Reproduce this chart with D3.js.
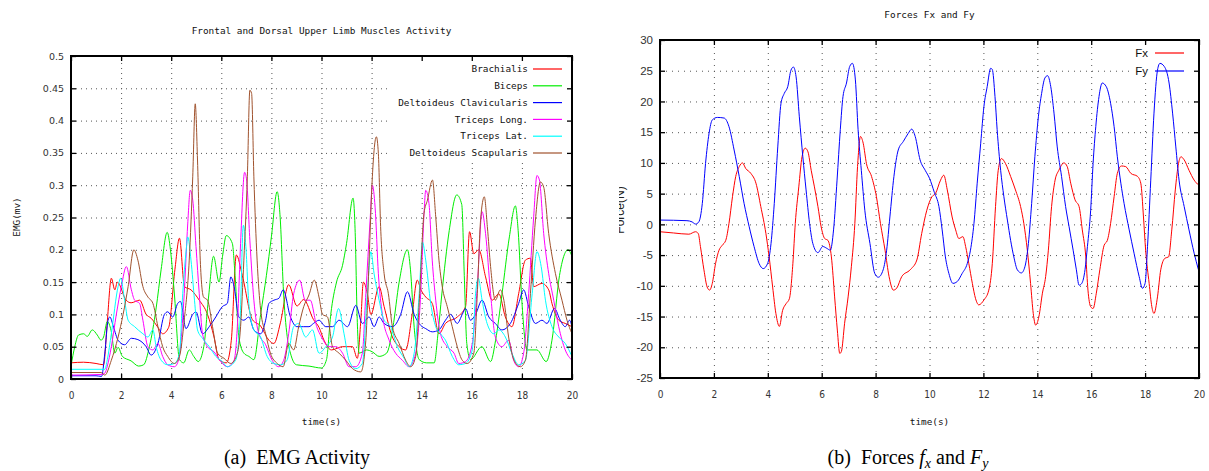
<!DOCTYPE html>
<html><head><meta charset="utf-8">
<script src="https://cdn.jsdelivr.net/npm/d3@7"></script>
<style>
html,body{margin:0;padding:0;background:#fff;}
svg{display:block;}
</style></head><body>
<svg id="c" width="1209" height="471"></svg>
<script>
// ---------------- DATA ----------------
const timeTicks = [0,2,4,6,8,10,12,14,16,18,20];
const emgTicks = [0,0.05,0.1,0.15,0.2,0.25,0.3,0.35,0.4,0.45,0.5];
const emgTickLabels = ["0","0.05","0.1","0.15","0.2","0.25","0.3","0.35","0.4","0.45","0.5"];
const forceTicks = [-25,-20,-15,-10,-5,0,5,10,15,20,25,30];

const muscleNames = ["Brachialis","Biceps","Deltoideus Clavicularis","Triceps Long.","Triceps Lat.","Deltoideus Scapularis"];
const muscleColors = ["#ff0000","#00ee00","#0000ff","#ff00ff","#00ffff","#a0522d"];

const brachialis = [[0,0.025],[0.5,0.026],[1.0,0.024],[1.3,0.022],[1.45,0.09],[1.61,0.156],[1.75,0.138],[1.85,0.15],[2.2,0.122],[2.4,0.118],[2.74,0.122],[3.0,0.1],[3.2,0.094],[3.47,0.08],[3.66,0.07],[3.9,0.08],[4.15,0.17],[4.33,0.218],[4.53,0.143],[4.79,0.138],[5.12,0.122],[5.45,0.1],[5.71,0.065],[5.91,0.03],[6.2,0.025],[6.4,0.06],[6.6,0.192],[6.84,0.16],[7.24,0.092],[7.57,0.082],[7.9,0.06],[8.1,0.055],[8.36,0.087],[8.69,0.146],[9.02,0.113],[9.29,0.123],[9.68,0.092],[9.9,0.08],[10.1,0.06],[10.4,0.045],[10.84,0.05],[11.24,0.05],[11.43,0.032],[11.57,0.091],[11.67,0.15],[11.83,0.132],[11.97,0.1],[12.3,0.143],[12.5,0.112],[12.83,0.065],[13.1,0.05],[13.36,0.045],[13.62,0.1],[13.82,0.153],[13.97,0.138],[14.16,0.127],[14.42,0.117],[14.69,0.07],[14.95,0.086],[15.42,0.096],[15.75,0.112],[15.91,0.228],[16.08,0.194],[16.28,0.2],[16.55,0.158],[16.81,0.122],[17.08,0.132],[17.34,0.096],[17.6,0.081],[17.87,0.132],[18.14,0.184],[18.34,0.187],[18.47,0.143],[18.8,0.148],[19.07,0.138],[19.2,0.117],[19.47,0.091],[19.73,0.086],[20,0.081]];

const biceps = [[0,0.02],[0.15,0.05],[0.3,0.068],[0.5,0.07],[0.65,0.066],[0.85,0.076],[1.05,0.068],[1.2,0.06],[1.3,0.065],[1.45,0.089],[1.6,0.075],[1.75,0.04],[1.88,0.049],[2.05,0.035],[2.4,0.028],[2.7,0.02],[2.9,0.022],[3.13,0.05],[3.4,0.11],[3.6,0.17],[3.84,0.227],[3.97,0.2],[4.13,0.13],[4.33,0.03],[4.5,0.025],[4.72,0.045],[4.9,0.035],[5.08,0.027],[5.3,0.05],[5.5,0.13],[5.69,0.19],[5.91,0.15],[6.05,0.19],[6.2,0.222],[6.44,0.21],[6.55,0.16],[6.7,0.065],[6.9,0.04],[7.1,0.035],[7.3,0.03],[7.57,0.1],[7.8,0.16],[8.0,0.22],[8.23,0.29],[8.35,0.25],[8.49,0.13],[8.65,0.06],[8.76,0.04],[9.0,0.022],[9.5,0.02],[10.0,0.017],[10.2,0.03],[10.37,0.1],[10.6,0.15],[10.84,0.176],[11.0,0.21],[11.26,0.28],[11.35,0.22],[11.42,0.1],[11.5,0.04],[11.8,0.045],[12.03,0.042],[12.3,0.035],[12.6,0.04],[12.85,0.08],[13.1,0.15],[13.43,0.2],[13.55,0.17],[13.7,0.08],[13.9,0.03],[14.2,0.025],[14.5,0.025],[14.65,0.07],[14.8,0.13],[15.1,0.23],[15.4,0.285],[15.6,0.27],[15.7,0.16],[15.8,0.055],[15.95,0.03],[16.4,0.05],[16.75,0.027],[16.95,0.06],[17.2,0.13],[17.5,0.22],[17.74,0.268],[17.85,0.23],[18.0,0.12],[18.2,0.045],[18.6,0.045],[18.97,0.027],[19.2,0.06],[19.5,0.16],[19.84,0.2],[20,0.19]];

const deltClavicularis = [[0,0.005],[1.0,0.005],[1.22,0.004],[1.35,0.04],[1.48,0.091],[1.55,0.096],[1.7,0.08],[1.88,0.06],[2.14,0.053],[2.41,0.063],[2.67,0.061],[3.0,0.05],[3.2,0.037],[3.47,0.055],[3.73,0.1],[3.86,0.104],[4.06,0.096],[4.26,0.117],[4.37,0.12],[4.59,0.078],[4.86,0.1],[4.99,0.104],[5.25,0.07],[5.52,0.081],[5.78,0.096],[6.04,0.112],[6.24,0.117],[6.38,0.158],[6.51,0.143],[6.7,0.096],[6.9,0.091],[7.1,0.096],[7.3,0.076],[7.57,0.07],[7.77,0.091],[7.9,0.117],[8.1,0.122],[8.3,0.125],[8.47,0.138],[8.76,0.096],[9.02,0.081],[9.29,0.081],[9.5,0.081],[9.68,0.086],[9.9,0.091],[10.17,0.081],[10.44,0.081],[10.7,0.091],[11.04,0.081],[11.37,0.114],[11.63,0.086],[11.9,0.096],[12.1,0.081],[12.3,0.096],[12.5,0.086],[12.83,0.081],[13.16,0.1],[13.43,0.135],[13.7,0.1],[13.96,0.083],[14.16,0.078],[14.42,0.073],[14.69,0.076],[14.95,0.091],[15.15,0.1],[15.42,0.086],[15.62,0.1],[15.75,0.109],[15.95,0.091],[16.15,0.1],[16.41,0.122],[16.68,0.096],[16.94,0.086],[17.2,0.076],[17.54,0.086],[17.87,0.117],[18.07,0.138],[18.27,0.112],[18.54,0.086],[18.8,0.091],[19.0,0.086],[19.3,0.109],[19.53,0.091],[19.73,0.081],[19.9,0.091],[20,0.081]];

const tricepsLong = [[0,0.006],[1.2,0.007],[1.35,0.009],[1.45,0.02],[1.61,0.05],[1.81,0.1],[2.01,0.143],[2.21,0.174],[2.41,0.138],[2.54,0.122],[2.74,0.117],[2.87,0.091],[3.07,0.05],[3.27,0.045],[3.47,0.055],[3.66,0.035],[3.86,0.022],[4.13,0.019],[4.3,0.03],[4.37,0.05],[4.52,0.132],[4.66,0.24],[4.76,0.292],[4.86,0.277],[4.99,0.205],[5.12,0.132],[5.25,0.07],[5.45,0.05],[5.71,0.042],[5.98,0.027],[6.24,0.019],[6.51,0.029],[6.64,0.081],[6.77,0.21],[6.93,0.32],[7.01,0.308],[7.14,0.215],[7.3,0.122],[7.5,0.07],[7.77,0.053],[8.03,0.029],[8.29,0.019],[8.49,0.029],[8.69,0.07],[8.89,0.132],[9.13,0.153],[9.35,0.122],[9.55,0.122],[9.81,0.081],[10.0,0.065],[10.3,0.05],[10.57,0.05],[10.84,0.04],[11.1,0.019],[11.37,0.019],[11.63,0.04],[11.77,0.132],[11.94,0.246],[12.03,0.3],[12.14,0.266],[12.27,0.163],[12.43,0.1],[12.7,0.06],[12.96,0.04],[13.23,0.029],[13.5,0.019],[13.76,0.04],[13.96,0.132],[14.1,0.261],[14.16,0.292],[14.29,0.272],[14.42,0.184],[14.56,0.122],[14.75,0.07],[15.02,0.05],[15.29,0.04],[15.48,0.024],[15.75,0.027],[16.02,0.055],[16.22,0.143],[16.41,0.259],[16.55,0.225],[16.75,0.132],[16.94,0.065],[17.2,0.05],[17.47,0.06],[17.67,0.029],[17.87,0.019],[18.07,0.04],[18.27,0.132],[18.47,0.251],[18.6,0.315],[18.7,0.308],[18.87,0.225],[19.07,0.163],[19.27,0.122],[19.47,0.081],[19.73,0.045],[20,0.029]];

const tricepsLat = [[0,0.015],[1.2,0.015],[1.35,0.015],[1.45,0.03],[1.61,0.07],[1.88,0.143],[1.98,0.156],[2.14,0.122],[2.28,0.091],[2.54,0.081],[2.87,0.07],[3.07,0.065],[3.27,0.076],[3.4,0.05],[3.6,0.029],[3.86,0.022],[4.13,0.024],[4.33,0.04],[4.46,0.132],[4.6,0.2],[4.66,0.22],[4.79,0.184],[4.93,0.122],[5.05,0.076],[5.25,0.063],[5.52,0.05],[5.78,0.035],[6.04,0.027],[6.24,0.019],[6.57,0.029],[6.75,0.091],[6.88,0.238],[6.98,0.205],[7.1,0.117],[7.3,0.076],[7.57,0.065],[7.83,0.035],[8.1,0.024],[8.36,0.022],[8.62,0.029],[8.89,0.081],[9.09,0.086],[9.37,0.065],[9.64,0.076],[9.9,0.04],[10.17,0.05],[10.44,0.065],[10.68,0.109],[10.9,0.07],[11.1,0.029],[11.37,0.016],[11.63,0.024],[11.83,0.132],[11.97,0.197],[12.1,0.163],[12.3,0.122],[12.5,0.091],[12.76,0.081],[13.03,0.05],[13.3,0.032],[13.5,0.019],[13.7,0.04],[13.9,0.132],[14.03,0.212],[14.16,0.184],[14.36,0.117],[14.56,0.081],[14.75,0.07],[14.95,0.06],[15.22,0.035],[15.48,0.022],[15.75,0.024],[16.02,0.045],[16.15,0.132],[16.26,0.156],[16.41,0.122],[16.61,0.086],[16.88,0.07],[17.08,0.076],[17.34,0.065],[17.6,0.04],[17.87,0.022],[18.14,0.029],[18.41,0.132],[18.6,0.197],[18.77,0.174],[18.94,0.122],[19.2,0.081],[19.47,0.065],[19.73,0.055],[20,0.035]];

const deltScapularis = [[0,0.01],[1.2,0.01],[1.35,0.006],[1.61,0.029],[1.88,0.065],[2.08,0.1],[2.28,0.143],[2.51,0.2],[2.67,0.184],[2.87,0.143],[3.07,0.127],[3.27,0.117],[3.47,0.081],[3.66,0.05],[3.86,0.035],[4.13,0.024],[4.33,0.035],[4.52,0.091],[4.72,0.184],[4.86,0.313],[4.96,0.426],[5.05,0.339],[5.16,0.184],[5.29,0.127],[5.45,0.122],[5.65,0.081],[5.85,0.04],[6.11,0.032],[6.38,0.024],[6.64,0.04],[6.77,0.081],[6.9,0.184],[7.04,0.313],[7.14,0.447],[7.21,0.442],[7.3,0.313],[7.43,0.184],[7.57,0.107],[7.77,0.07],[7.96,0.04],[8.23,0.024],[8.47,0.019],[8.69,0.055],[8.89,0.045],[9.09,0.081],[9.29,0.112],[9.5,0.13],[9.71,0.153],[9.9,0.127],[10.04,0.1],[10.24,0.096],[10.44,0.05],[10.7,0.04],[10.97,0.029],[11.24,0.016],[11.57,0.011],[11.77,0.06],[11.9,0.184],[12.03,0.313],[12.19,0.375],[12.27,0.349],[12.36,0.236],[12.5,0.163],[12.67,0.132],[12.83,0.081],[13.1,0.055],[13.36,0.029],[13.56,0.019],[13.76,0.035],[13.92,0.132],[14.09,0.256],[14.23,0.277],[14.43,0.308],[14.56,0.251],[14.69,0.184],[14.82,0.143],[15.02,0.112],[15.22,0.081],[15.42,0.05],[15.62,0.029],[15.82,0.024],[16.08,0.04],[16.22,0.132],[16.35,0.246],[16.5,0.282],[16.62,0.236],[16.75,0.174],[16.94,0.122],[17.14,0.138],[17.28,0.122],[17.47,0.065],[17.71,0.027],[17.94,0.019],[18.14,0.029],[18.34,0.132],[18.54,0.246],[18.74,0.305],[18.87,0.297],[19.07,0.225],[19.34,0.163],[19.6,0.122],[19.8,0.091],[20,0.07]];

const forceNames = ["Fx","Fy"];
const forceColors = ["#ff0000","#0000ff"];

const forceX = [[0,-1.2],[0.5,-1.4],[1.07,-1.6],[1.32,-1.2],[1.42,-1.5],[1.5,-3.6],[1.63,-7.4],[1.75,-10.2],[1.84,-10.7],[1.94,-9.6],[2.06,-6.4],[2.19,-4.2],[2.31,-3.4],[2.44,-2.6],[2.56,0.16],[2.69,4.5],[2.81,7.8],[2.94,9.4],[3.06,10.0],[3.18,9.1],[3.37,8.3],[3.56,6.7],[3.74,2.9],[3.93,-1.5],[4.05,-5.3],[4.18,-10.2],[4.3,-14.5],[4.43,-16.6],[4.55,-14.0],[4.68,-12.9],[4.8,-12.1],[4.93,-6.4],[5.02,0.16],[5.15,6.1],[5.27,11.0],[5.39,12.4],[5.49,11.8],[5.61,8.8],[5.73,6.1],[5.86,2.9],[5.98,-0.4],[6.11,-2.3],[6.23,-2.6],[6.36,-5.3],[6.48,-11.8],[6.58,-17.2],[6.67,-21.0],[6.73,-20.7],[6.85,-16.1],[6.98,-11.8],[7.1,-6.9],[7.23,0.16],[7.33,9.4],[7.44,14.3],[7.54,13.2],[7.66,9.9],[7.85,7.8],[8.03,4.5],[8.18,0.16],[8.35,-4.2],[8.5,-8.5],[8.66,-10.7],[8.78,-10.4],[8.97,-8.5],[9.28,-7.4],[9.53,-5.8],[9.71,-1.5],[9.9,2.3],[10.09,4.5],[10.22,5.0],[10.41,7.2],[10.53,8.0],[10.66,5.6],[10.84,1.2],[10.97,-0.9],[11.09,-2.3],[11.24,-2.0],[11.34,-3.6],[11.46,-6.4],[11.59,-9.6],[11.71,-12.1],[11.83,-13.1],[12.02,-12.3],[12.2,-10.7],[12.33,-6.4],[12.45,2.9],[12.55,8.8],[12.67,10.7],[12.82,9.9],[13.01,7.8],[13.19,5.6],[13.38,2.9],[13.5,0.16],[13.63,-4.2],[13.75,-9.6],[13.85,-14.5],[13.94,-16.4],[14.06,-15.0],[14.19,-11.2],[14.31,-8.5],[14.41,-4.2],[14.53,2.9],[14.66,7.2],[14.8,8.8],[14.99,10.0],[15.11,9.4],[15.24,6.7],[15.4,4.0],[15.55,2.9],[15.67,-0.9],[15.8,-5.3],[15.88,-10.7],[15.98,-13.4],[16.07,-13.7],[16.19,-11.2],[16.32,-7.4],[16.48,-3.4],[16.6,-2.6],[16.72,0.16],[16.85,4.5],[16.97,8.3],[17.12,9.5],[17.28,9.4],[17.47,8.3],[17.72,7.8],[17.84,6.7],[17.94,1.2],[18.02,-4.2],[18.15,-9.6],[18.25,-13.4],[18.33,-14.5],[18.46,-11.8],[18.58,-7.4],[18.74,-5.5],[18.87,-5.3],[18.99,-0.9],[19.12,5.6],[19.24,9.9],[19.33,11.0],[19.45,10.5],[19.63,8.8],[19.82,7.2],[19.98,6.4]];

const forceY = [[0,0.7],[1.0,0.6],[1.19,0.4],[1.32,0.05],[1.44,0.4],[1.57,3.4],[1.69,9.9],[1.82,14.8],[1.94,17.0],[2.13,17.4],[2.38,17.3],[2.56,15.9],[2.75,12.1],[2.94,7.8],[3.12,3.4],[3.31,-0.4],[3.49,-3.6],[3.68,-6.4],[3.83,-7.2],[3.99,-6.4],[4.12,-3.1],[4.24,3.4],[4.37,12.6],[4.49,19.7],[4.61,21.3],[4.74,22.4],[4.86,25.1],[4.95,25.6],[5.05,24.0],[5.17,17.5],[5.3,11.0],[5.42,5.6],[5.55,0.16],[5.67,-3.1],[5.86,-4.6],[6.04,-3.6],[6.19,-3.9],[6.32,-4.2],[6.44,-0.9],[6.57,7.2],[6.69,15.4],[6.79,20.8],[6.92,23.0],[7.04,25.7],[7.14,26.2],[7.25,23.5],[7.35,15.4],[7.47,8.8],[7.6,2.3],[7.79,-3.1],[7.97,-8.0],[8.1,-8.6],[8.28,-7.4],[8.41,-4.2],[8.53,1.2],[8.68,7.8],[8.84,12.1],[9.03,13.5],[9.21,14.8],[9.34,15.5],[9.47,14.3],[9.65,10.5],[9.84,8.8],[10.0,7.5],[10.18,5.2],[10.35,2.9],[10.47,-0.9],[10.59,-5.3],[10.72,-8.0],[10.87,-9.6],[11.03,-9.3],[11.21,-8.0],[11.4,-6.4],[11.52,-4.2],[11.65,0.16],[11.77,6.7],[11.9,13.2],[12.02,19.2],[12.14,22.4],[12.27,25.4],[12.33,25.2],[12.43,20.8],[12.51,15.4],[12.64,8.8],[12.76,4.5],[12.89,0.7],[13.01,-2.6],[13.13,-5.3],[13.26,-7.4],[13.41,-7.9],[13.54,-6.9],[13.67,-3.1],[13.79,3.4],[13.91,11.0],[14.04,17.5],[14.16,21.3],[14.28,23.8],[14.38,24.2],[14.5,22.4],[14.62,18.1],[14.74,12.6],[14.9,7.8],[15.05,2.9],[15.18,-0.4],[15.33,-4.2],[15.45,-7.4],[15.55,-9.9],[15.65,-9.6],[15.77,-7.4],[15.86,-3.6],[15.98,2.3],[16.07,9.9],[16.17,15.9],[16.29,20.8],[16.41,23.0],[16.56,22.4],[16.72,19.7],[16.85,15.9],[16.97,11.0],[17.1,6.7],[17.22,3.4],[17.41,-0.9],[17.59,-4.7],[17.78,-8.5],[17.9,-10.4],[18.0,-9.6],[18.09,-3.6],[18.21,7.2],[18.33,18.1],[18.46,25.1],[18.55,26.2],[18.71,25.7],[18.89,23.0],[19.02,18.1],[19.14,12.6],[19.26,7.2],[19.45,2.9],[19.63,-0.9],[19.82,-4.7],[19.98,-7.4]];

// ---------------- DRAW ----------------
const svg = d3.select("#c");
const MONO = "'DejaVu Sans Mono', monospace";
const SANS = "'DejaVu Sans', sans-serif";
const NARROW = "'Liberation Sans Narrow','DejaVu Sans Condensed','Liberation Sans', sans-serif";

function drawPanel(cfg) {
  const g = svg.append("g");
  const x = d3.scaleLinear().domain([0, 20]).range([cfg.left, cfg.right]);
  const y = d3.scaleLinear().domain(cfg.yDomain).range([cfg.bottom, cfg.top]);
  const h = cfg.bottom - cfg.top, w = cfg.right - cfg.left;

  // grid
  const gridX = g.append("g").attr("transform", `translate(0,${cfg.bottom})`)
    .call(d3.axisBottom(x).tickValues(timeTicks.slice(1, -1)).tickSize(-h).tickFormat(""));
  const gridY = g.append("g").attr("transform", `translate(${cfg.left},0)`)
    .call(d3.axisLeft(y).tickValues(cfg.yTicks.slice(1, -1)).tickSize(-w).tickFormat(""));
  [gridX, gridY].forEach(s => {
    s.select(".domain").remove();
    s.selectAll("line").attr("stroke", "#555").attr("stroke-width", 1).attr("stroke-dasharray", cfg.dash);
  });

  // legend background (opaque key)
  g.append("rect").attr("x", cfg.key.x0).attr("y", cfg.key.y0)
    .attr("width", cfg.key.x1 - cfg.key.x0).attr("height", cfg.key.y1 - cfg.key.y0).attr("fill", "#fff");

  // series
  const clipId = "clip" + cfg.id;
  svg.append("clipPath").attr("id", clipId).append("rect")
    .attr("x", cfg.left).attr("y", cfg.top).attr("width", w).attr("height", h);
  const line = d3.line().x(d => x(d[0])).y(d => y(d[1])).curve(d3.curveMonotoneX);
  const sg = g.append("g").attr("clip-path", `url(#${clipId})`);
  cfg.series.forEach((s, i) => {
    sg.append("path").datum(s).attr("d", line).attr("fill", "none")
      .attr("stroke", cfg.colors[i]).attr("stroke-width", 1).attr("stroke-linejoin", "round");
  });

  // axes with inward ticks (mirrored)
  const axB = g.append("g").attr("transform", `translate(0,${cfg.bottom})`)
    .call(d3.axisBottom(x).tickValues(timeTicks).tickSizeInner(-5).tickSizeOuter(0).tickPadding(13));
  const axT = g.append("g").attr("transform", `translate(0,${cfg.top})`)
    .call(d3.axisTop(x).tickValues(timeTicks).tickSizeInner(-5).tickSizeOuter(0).tickFormat(""));
  const axL = g.append("g").attr("transform", `translate(${cfg.left},0)`)
    .call(d3.axisLeft(y).tickValues(cfg.yTicks).tickSizeInner(-5).tickSizeOuter(0).tickPadding(cfg.yPad)
      .tickFormat((d, i) => cfg.yLabels[i]));
  const axR = g.append("g").attr("transform", `translate(${cfg.right},0)`)
    .call(d3.axisRight(y).tickValues(cfg.yTicks).tickSizeInner(-5).tickSizeOuter(0).tickFormat(""));
  [axB, axT, axL, axR].forEach(a => {
    a.select(".domain").remove();
    a.selectAll("line").attr("stroke", "#000").attr("stroke-width", 1.3);
  });
  axB.selectAll("text").attr("font-family", NARROW).attr("font-size", 10).attr("fill", "#333");
  axL.selectAll("text").attr("font-family", cfg.yFont).attr("font-size", cfg.yFontSize).attr("fill", "#333");

  // frame
  g.append("rect").attr("x", cfg.left).attr("y", cfg.top).attr("width", w).attr("height", h)
    .attr("fill", "none").attr("stroke", "#000").attr("stroke-width", 2);

  // legend entries
  cfg.names.forEach((n, i) => {
    const ly = cfg.key.rowY0 + i * cfg.key.rowStep;
    g.append("text").attr("x", cfg.key.textX).attr("y", ly).attr("dy", "0.35em")
      .attr("text-anchor", "end").attr("font-family", cfg.key.font).attr("font-size", cfg.key.size)
      .attr("fill", "#111").text(n);
    g.append("line").attr("x1", cfg.key.lineX0).attr("x2", cfg.key.lineX1).attr("y1", ly).attr("y2", ly)
      .attr("stroke", cfg.colors[i]).attr("stroke-width", 1.2);
  });

  // title & x label
  g.append("text").attr("x", (cfg.left + cfg.right) / 2).attr("y", cfg.titleY).attr("text-anchor", "middle")
    .attr("font-family", MONO).attr("font-size", 9.4).attr("fill", "#111").text(cfg.title);
  g.append("text").attr("x", (cfg.left + cfg.right) / 2).attr("y", 425).attr("text-anchor", "middle")
    .attr("font-family", MONO).attr("font-size", 9.4).attr("fill", "#111").text("time(s)");
  return g;
}

drawPanel({
  id: "emg", left: 71, right: 572, top: 56, bottom: 379, yDomain: [0, 0.5],
  yTicks: emgTicks, yLabels: emgTickLabels, yPad: 7, yFont: SANS, yFontSize: 9.5,
  dash: "1,4",
  series: [brachialis, biceps, deltClavicularis, tricepsLong, tricepsLat, deltScapularis],
  colors: muscleColors, names: muscleNames,
  key: { x0: 388, x1: 570, y0: 58, y1: 162, rowY0: 69, rowStep: 16.8, textX: 528, lineX0: 533, lineX1: 562,
         font: MONO, size: 9.4 },
  title: "Frontal and Dorsal Upper Limb Muscles Activity", titleY: 34
});

drawPanel({
  id: "force", left: 660, right: 1199, top: 40, bottom: 378, yDomain: [-25, 30],
  yTicks: forceTicks, yLabels: forceTicks.map(String), yPad: 7, yFont: "'Liberation Sans', sans-serif", yFontSize: 11.5,
  dash: "1,5",
  series: [forceX, forceY], colors: forceColors, names: forceNames,
  key: { x0: 1133, x1: 1197, y0: 43, y1: 80, rowY0: 53, rowStep: 18, textX: 1148, lineX0: 1155, lineX1: 1184,
         font: "'Liberation Sans', sans-serif", size: 11.5 },
  title: "Forces Fx and Fy", titleY: 18
});

// y-axis labels
svg.append("text").attr("transform", "translate(20,217) rotate(-90)").attr("text-anchor", "middle")
  .attr("font-family", MONO).attr("font-size", 9.4).attr("fill", "#111").text("EMG(mv)");
svg.append("clipPath").attr("id", "flab").append("rect").attr("x", 619).attr("y", 150).attr("width", 20).attr("height", 120);
svg.append("g").attr("clip-path", "url(#flab)")
  .append("text").attr("transform", "translate(624,210) rotate(-90)")
  .attr("text-anchor", "middle").attr("font-family", "'Liberation Sans', sans-serif").attr("font-size", 12)
  .attr("fill", "#222").text("Force(N)");

// captions (centred under each whole sub-figure)
const SERIF = "'Liberation Serif', 'Times New Roman', serif";
const ca = svg.append("text").attr("x", 297).attr("y", 464).attr("text-anchor", "middle")
  .attr("font-family", SERIF).attr("font-size", 20).attr("fill", "#000");
ca.append("tspan").text("(a)");
ca.append("tspan").attr("dx", 5).text(" EMG Activity");
const cb = svg.append("text").attr("x", 908).attr("y", 464).attr("text-anchor", "middle")
  .attr("font-family", SERIF).attr("font-size", 20).attr("fill", "#000");
cb.append("tspan").text("(b)");
cb.append("tspan").attr("dx", 5).text(" Forces ");
cb.append("tspan").attr("font-style", "italic").text("f");
cb.append("tspan").attr("font-style", "italic").attr("font-size", 14).attr("dy", 4).text("x");
cb.append("tspan").attr("dy", -4).text(" and ");
cb.append("tspan").attr("font-style", "italic").text("F");
cb.append("tspan").attr("font-style", "italic").attr("font-size", 14).attr("dy", 4).text("y");
</script>
</body></html>
